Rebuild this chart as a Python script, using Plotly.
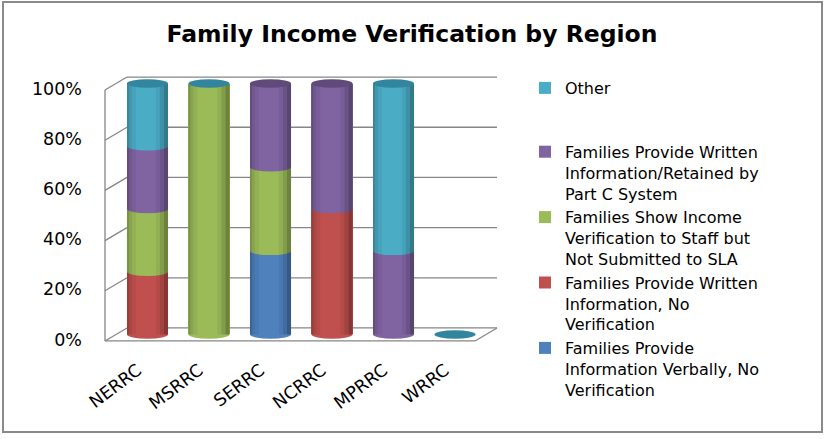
import plotly.graph_objects as go

regions = ["NERRC", "MSRRC", "SERRC", "NCRRC", "MPRRC", "WRRC"]

series_names = [
    "Families Provide<br>Information Verbally, No<br>Verification",
    "Families Provide Written<br>Information, No<br>Verification",
    "Families Show Income<br>Verification to Staff but<br>Not Submitted to SLA",
    "Families Provide Written<br>Information/Retained by<br>Part C System",
    "Other",
]
verbally = [0, 0, 33.3, 0, 0, 0]
written_no_verif = [25, 0, 0, 50, 0, 0]
show_income = [25, 100, 33.3, 0, 0, 0]
written_retained = [25, 0, 33.4, 50, 33.3, 0]
other = [25, 0, 0, 0, 66.7, 0]
series_values = [verbally, written_no_verif, show_income, written_retained, other]

colors = ["#4F81BD", "#C0504D", "#9BBB59", "#8064A2", "#4BACC6"]
cap_colors = ["#3A6496", "#953B39", "#77933C", "#5F4A7A", "#31859C"]
# index of series whose colour the top cap takes, per region
cap_series = [4, 4, 3, 3, 4, 4]
legend_ranks = [5, 4, 3, 2, 1]

tick_vals = [0, 20, 40, 60, 80, 100]
tick_text = ["0%", "20%", "40%", "60%", "80%", "100%"]

W, H = 824, 439
L, R, T, B = 105, 327, 71, 97
PW, PH = W - L - R, H - T - B
Y_RANGE = [-3, 105]
px_per_unit = PH / (Y_RANGE[1] - Y_RANGE[0])

bar_width = 0.67
fig = go.Figure()
for i, (name, vals) in enumerate(zip(series_names, series_values)):
    fig.add_trace(go.Bar(
        x=regions, y=vals, name=name,
        marker=dict(color=colors[i], line=dict(width=0)),
        width=bar_width,
        legendgroup="a" if i == 4 else "b",
        legendrank=legend_ranks[i],
    ))

shapes = []
grid_col = "#868686"
depth = 6.5          # half depth of the 3-D box, pixels
wall_frac = 22 / PW
floor_end = (475 - L) / PW
lw = 1.3
# back-wall gridlines and left-wall diagonals
for v in tick_vals:
    shapes.append(dict(type="line", xref="paper", x0=wall_frac, x1=1,
                       yref="y", ysizemode="pixel", yanchor=v, y0=depth, y1=depth,
                       line=dict(color=grid_col, width=lw), layer="below"))
    shapes.append(dict(type="line", xref="paper", x0=0, x1=wall_frac,
                       yref="y", ysizemode="pixel", yanchor=v, y0=-depth, y1=depth,
                       line=dict(color=grid_col, width=lw), layer="below"))
# front floor edge and right floor diagonal
shapes.append(dict(type="line", xref="paper", x0=0, x1=floor_end,
                   yref="y", ysizemode="pixel", yanchor=0, y0=-depth, y1=-depth,
                   line=dict(color=grid_col, width=lw), layer="below"))
shapes.append(dict(type="line", xref="paper", x0=floor_end, x1=1,
                   yref="y", ysizemode="pixel", yanchor=0, y0=-depth, y1=depth,
                   line=dict(color=grid_col, width=lw), layer="below"))
# front vertical axis line
off = depth / px_per_unit
shapes.append(dict(type="line", xref="paper", x0=0, x1=0, yref="y",
                   y0=tick_vals[0] - off, y1=tick_vals[-1] - off,
                   line=dict(color=grid_col, width=lw), layer="below"))

# cylinder ellipses (bottom arcs), side shading, caps
half = bar_width / 2
ell = 4.2
shade_left = [(0.00, 0.05, 0.22), (0.05, 0.12, 0.12), (0.12, 0.22, 0.05)]
shade_right = [(0.70, 0.80, 0.06), (0.80, 0.90, 0.16), (0.90, 1.00, 0.30)]
for j, reg in enumerate(regions):
    base = 0
    segs = []
    for i, vals in enumerate(series_values):
        v = vals[j]
        if v <= 0:
            continue
        shapes.append(dict(type="circle", xref="x", x0=j - half, x1=j + half,
                           yref="y", ysizemode="pixel", yanchor=base, y0=-ell, y1=ell,
                           fillcolor=colors[i], line=dict(width=0), layer="above"))
        segs.append((base, base + v))
        base += v
    for (b0, b1) in segs:
        for f0, f1, a in shade_left + shade_right:
            shapes.append(dict(type="rect", xref="x",
                               x0=j - half + f0 * bar_width, x1=j - half + f1 * bar_width,
                               yref="y", y0=b0, y1=b1,
                               fillcolor="rgba(0,0,0,%.2f)" % a, line=dict(width=0),
                               layer="above"))
    shapes.append(dict(type="circle", xref="x", x0=j - half, x1=j + half,
                       yref="y", ysizemode="pixel", yanchor=base, y0=-ell, y1=ell,
                       fillcolor=cap_colors[cap_series[j]], line=dict(width=0), layer="above"))

# outer chart border
shapes.append(dict(type="rect", xref="paper", yref="paper",
                   x0=(3 - L) / PW, x1=(822 - L) / PW,
                   y0=(H - B - 432) / PH, y1=(H - B - 2) / PH,
                   line=dict(color="#8A8A8A", width=2), layer="below"))

fig.update_layout(
    width=W, height=H,
    margin=dict(l=L, r=R, t=T, b=B, autoexpand=False),
    paper_bgcolor="white", plot_bgcolor="rgba(0,0,0,0)",
    barmode="stack",
    title=dict(text="<b>Family Income Verification by Region</b>", x=0.5, xanchor="center",
               xref="container", yref="container",
               y=1 - 34 / H, yanchor="middle",
               font=dict(family="DejaVu Sans", size=23.5, color="#000000")),
    xaxis=dict(range=[-0.691, 5.683], tickangle=-37, showgrid=False, showline=False,
               ticks="", automargin=False, ticklabelstandoff=14, ticklabelshift=-10,
               tickfont=dict(family="DejaVu Sans", size=17.5, color="#000000")),
    yaxis=dict(range=Y_RANGE, tickvals=tick_vals, ticktext=tick_text, showgrid=False,
               zeroline=False, showline=False, ticks="", ticklabelstandoff=22,
               automargin=False, ticklabelshift=5,
               tickfont=dict(family="DejaVu Sans", size=17.5, color="#000000")),
    legend=dict(xref="container", yref="container", x=525 / W, xanchor="left",
                y=1 - 71 / H, yanchor="top", maxheight=0.95, valign="top",
                traceorder="grouped", tracegroupgap=40,
                font=dict(family="DejaVu Sans", size=16, color="#000000"),
                itemclick=False),
    shapes=shapes,
)

fig.write_html("out.html", config={"displayModeBar": False},
               post_script="document.body.style.margin='0';")
